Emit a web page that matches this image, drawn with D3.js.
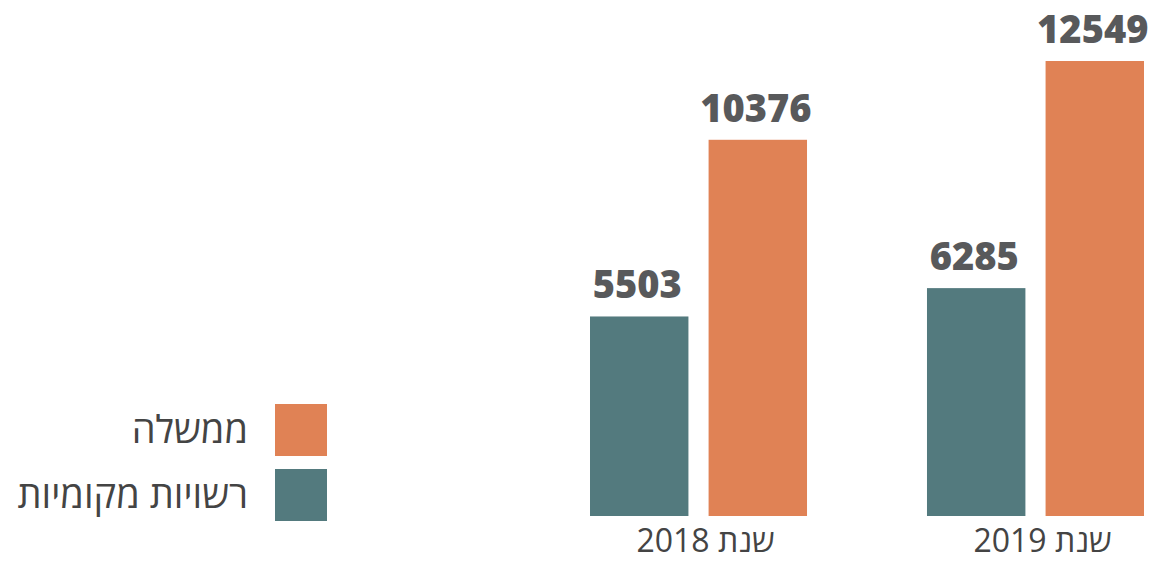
<!DOCTYPE html>
<html><head><meta charset="utf-8">
<script src="https://cdn.jsdelivr.net/npm/d3@7"></script>
<style>html,body{margin:0;padding:0;background:#fff;overflow:hidden}</style>
</head><body>
<svg id="c" width="1150" height="562"></svg>
<script>
const categories = ["שנת 2018", "שנת 2019"];
const seriesNames = ["רשויות מקומיות", "ממשלה"];
const localValues = [5503, 6285];
const govValues = [10376, 12549];
const colors = ["#537a7e", "#e08255"];

const svg = d3.select("#c");
const data = categories.map((c, i) => ({cat: c, vals: [localValues[i], govValues[i]]}));

const x0 = d3.scaleBand().domain(categories).range([590, 1144]).paddingInner(0.356).paddingOuter(0);
const x1 = d3.scaleBand().domain([0, 1]).range([0, x0.bandwidth()]).paddingInner(0.17);
const y = d3.scaleLinear().domain([0, 12549]).range([516, 61]);

const g = svg.selectAll("g.grp").data(data).join("g")
  .attr("class", "grp")
  .attr("transform", d => `translate(${x0(d.cat)},0)`);

g.selectAll("rect").data(d => d.vals).join("rect")
  .attr("x", (d, i) => x1(i))
  .attr("width", x1.bandwidth())
  .attr("y", d => y(d))
  .attr("height", d => y(0) - y(d))
  .attr("fill", (d, i) => colors[i]);

g.selectAll("text.val").data(d => d.vals).join("text")
  .attr("class", "val")
  .attr("x", (d, i) => x1(i) + x1.bandwidth() / 2 - 2)
  .attr("y", d => y(d) - 18)
  .attr("text-anchor", "middle")
  .attr("font-family", "'Open Sans', Lato, sans-serif")
  .attr("font-weight", 800)
  .attr("font-size", 38)
  .attr("fill", "#58595b")
  .text(d => d);

// category axis labels
const xAxis = d3.axisBottom(x0).tickSize(0).tickPadding(0);
const ax = svg.append("g").attr("transform", "translate(7,0)").call(xAxis);
ax.select(".domain").remove();
ax.selectAll("text")
  .attr("font-family", "'Open Sans', 'DejaVu Sans', sans-serif")
  .attr("font-size", 32)
  .attr("fill", "#444")
  .attr("y", 552)
  .attr("dy", 0)
  .attr("text-anchor", "middle");

// legend
const legendItems = [{name: seriesNames[1], color: colors[1]}, {name: seriesNames[0], color: colors[0]}];
const ly = d3.scaleBand().domain(legendItems.map(d => d.name)).range([404, 521]).paddingInner(0.2);
const lg = svg.append("g").selectAll("g").data(legendItems).join("g")
  .attr("transform", d => `translate(0,${ly(d.name)})`);
lg.append("rect").attr("x", 275).attr("width", 52).attr("height", ly.bandwidth()).attr("fill", d => d.color);
lg.append("text")
  .attr("x", 248).attr("y", 39)
  .attr("text-anchor", "end")
  .attr("font-family", "'Open Sans', 'DejaVu Sans', sans-serif")
  .attr("font-size", 38)
  .attr("fill", "#444")
  .text(d => d.name);
</script>
</body></html>
